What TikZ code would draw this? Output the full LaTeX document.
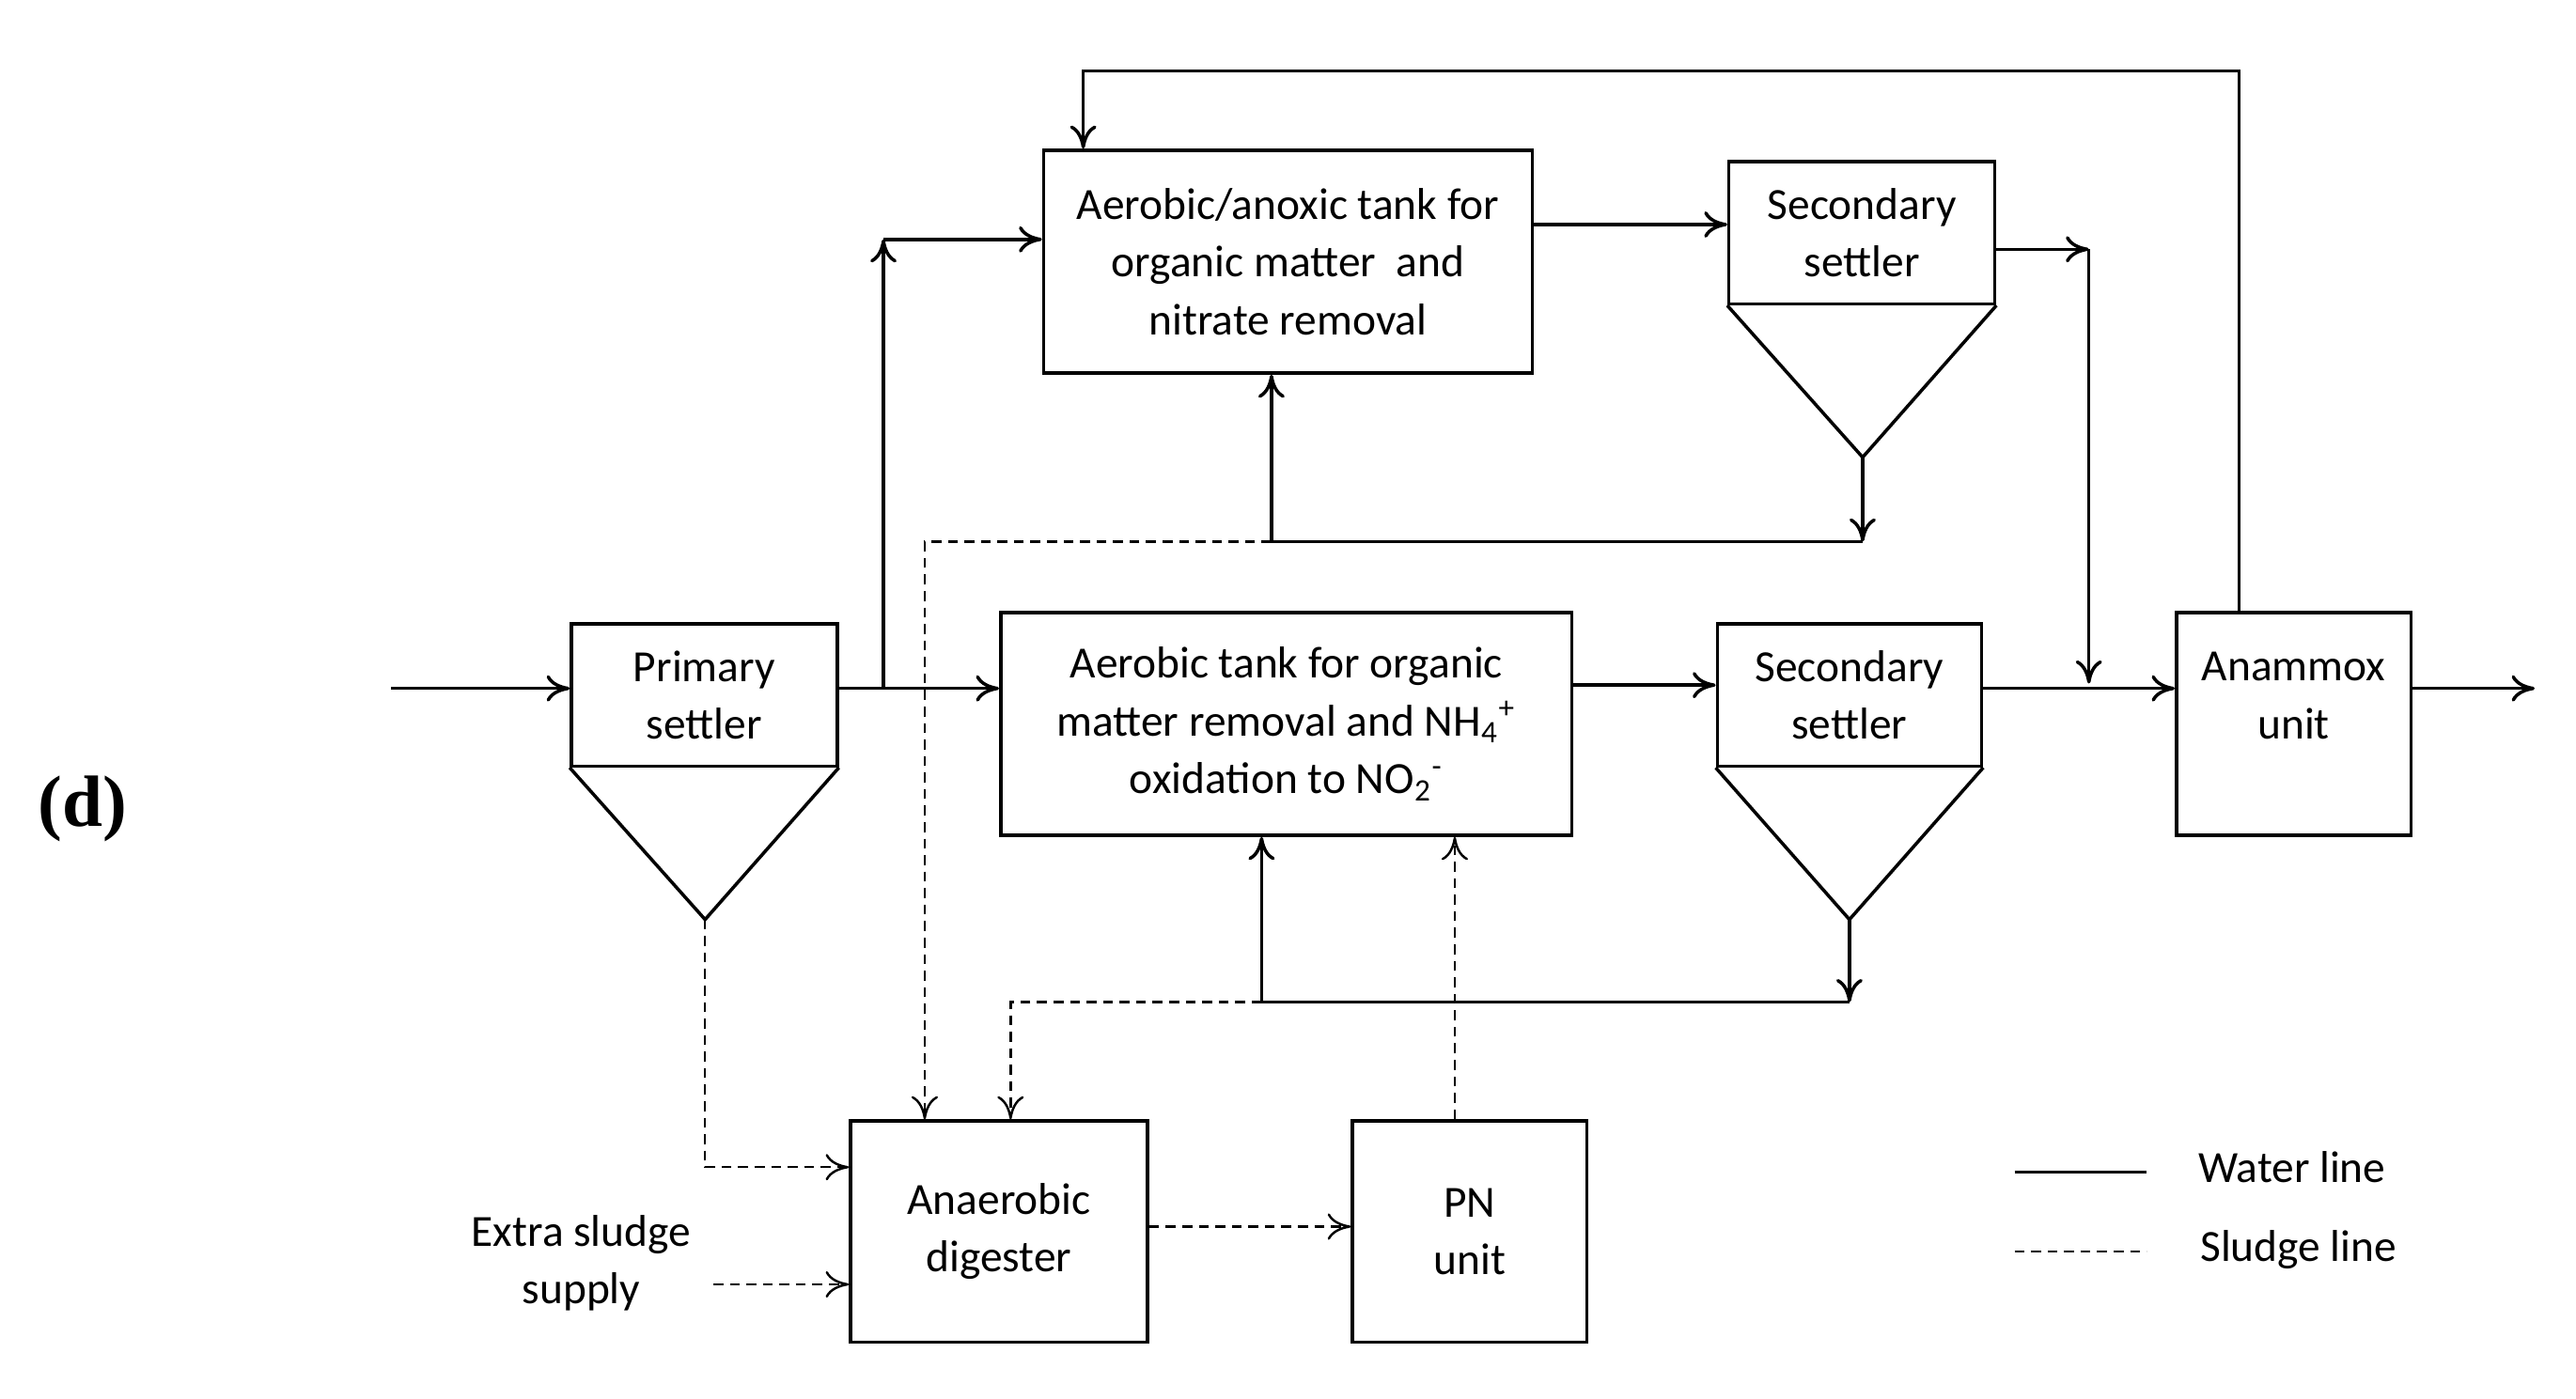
\documentclass[tikz,border=0pt]{standalone}
\usepackage{fontspec}
\setmainfont{Carlito}
\newfontfamily\labfont{Liberation Serif}
\usetikzlibrary{arrows.meta, positioning}
\begin{document}
\begin{tikzpicture}[x=0.5pt,y=-0.5pt,>={To[length=7pt,width=8pt]},line width=1pt,
	box/.style={draw,align=center,inner sep=0pt,font=\fontsize{13.5}{17.5}\selectfont},
	sludge/.style={dashed,dash pattern=on 3pt off 2pt,line width=0.7pt}]
	\useasboundingbox (0,0) rectangle (1560,847);
	\node at (50,490) {\fontsize{22}{26}\selectfont\labfont\bfseries (d)};
	\node (ps) [box, minimum width=80.5pt, minimum height=43pt] at (426.5,421) {Primary\\settler};
	\node (ax) [box, minimum width=148pt, minimum height=67.5pt] at (780,158.5) {Aerobic/anoxic tank for\\organic matter\ \ and\\nitrate removal};
	\node (ss1) [box, minimum width=80.5pt, minimum height=43pt] at (1127.5,141) {Secondary\\settler};
	\node (ae) [box, minimum width=173pt, minimum height=67.5pt] at (779,438.5) {Aerobic tank for organic\\matter removal and NH\textsubscript{4}\textsuperscript{+}\\oxidation to NO\textsubscript{2}\textsuperscript{-}};
	\node (ss2) [box, minimum width=80pt, minimum height=43pt] at (1120,421) {Secondary\\settler};
	\node (an) [box, minimum width=71pt, minimum height=67.5pt, label={[yshift=8.5pt,align=center,font=\fontsize{13.5}{17.5}\selectfont]center:Anammox\\unit}] at (1389,438.5) {};
	\node (ad) [box, minimum width=90pt, minimum height=67pt] at (605,746) {Anaerobic\\digester};
	\node (pn) [box, minimum width=71pt, minimum height=67pt] at (890,746) {PN\\unit};
	\node (ex) [align=center,font=\fontsize{13.5}{17.5}\selectfont] at (352,765) {Extra sludge\\supply};
	% settler cones
	\draw (ps.south west) -- (427,557) coordinate (psa) -- (ps.south east);
	\draw (ss1.south west) -- (1128,277) coordinate (ss1a) -- (ss1.south east);
	\draw (ss2.south west) -- (1120,557) coordinate (ss2a) -- (ss2.south east);
	\coordinate (in) at (237,417);
	\coordinate (out) at (1535,417);
	\coordinate (j1) at (535,417);
	\coordinate (r1) at (770,328);
	\coordinate (r2) at (764,607);
	% water line
	\draw[->] (in) -- (in -| ps.west);
	\draw[->] (ps.east |- in) -- (ae.west |- in);
	\draw[->] (j1) -- (535,145);
	\draw[->] (535,145) -- (ax.west |- 535,145);
	\draw[->] (ax.east |- 0,136) -- (ss1.west |- 0,136);
	\draw[->] (ss1.east |- 0,151) -- (1265,151);
	\draw[->] (1265,151) -- (1265,414);
	\draw[->] (ae.east |- 0,415) -- (ss2.west |- 0,415);
	\draw[->] (ss2.east |- in) -- (an.west |- in);
	\draw[->] (an.east |- in) -- (out);
	\draw[->] (an.north -| 1356,0) |- (656,43) -- (ax.north -| 656,0);
	\draw[->] (ss1a) -- (1128,328);
	\draw (1128,328) -- (r1);
	\draw[->] (r1) -- (ax.south -| r1);
	\draw[->] (ss2a) -- (1120,607);
	\draw (1120,607) -- (r2);
	\draw[->] (r2) -- (ae.south -| r2);
	% sludge line
	\draw[sludge,->] (r1) -| (ad.north -| 560,0);
	\draw[sludge,->] (r2) -| (ad.north -| 612,0);
	\draw[sludge,->] (psa) |- (ad.west |- 0,707);
	\draw[sludge,->] (432,778) -- (ad.west |- 0,778);
	\draw[sludge,->] (ad.east |- 0,743) -- (pn.west |- 0,743);
	\draw[sludge,->] (pn.north -| 881,0) -- (ae.south -| 881,0);
	% legend
	\draw (1220,710) -- (1300,710);
	\node at (1388,707) {\fontsize{13.5}{17.5}\selectfont Water line};
	\draw[sludge] (1220,758) -- (1300,758);
	\node at (1392,757) {\fontsize{13.5}{17.5}\selectfont Sludge line};
\end{tikzpicture}
\end{document}
